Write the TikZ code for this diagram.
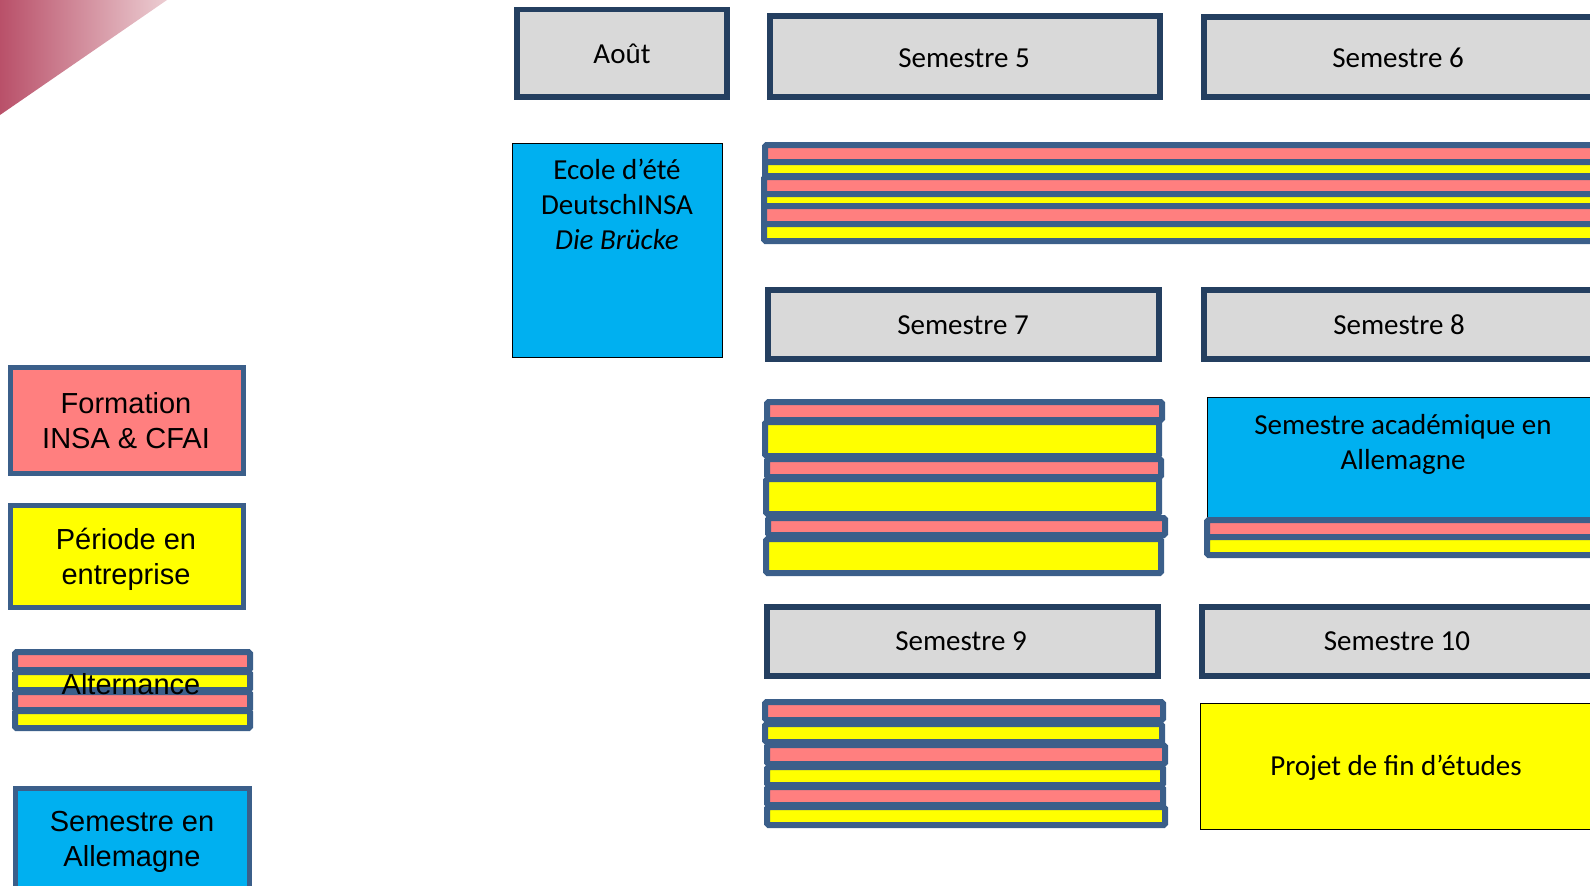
\documentclass[tikz,border=0pt]{standalone}
\usepackage{fontspec}
\setmainfont{Carlito}
\newfontfamily\arialf{Liberation Sans}
\definecolor{semgrey}{HTML}{D9D9D9}
\definecolor{navy}{HTML}{243F60}
\definecolor{sblue}{HTML}{3B5F8A}
\definecolor{spink}{HTML}{FF7F7F}
\definecolor{syellow}{HTML}{FFFF00}
\definecolor{cyanbox}{HTML}{00B0F0}
\definecolor{gradA}{RGB}{185,80,105}
\definecolor{gradB}{RGB}{236,205,210}
\tikzset{
 sembox/.style={draw=navy, line width=5.5pt, fill=semgrey},
 semtext/.style={font=\fontsize{29}{35}\selectfont, align=center, inner sep=0pt},
 legbox/.style={draw=sblue, line width=5pt},
 legtext/.style={font=\arialf\fontsize{29}{35}\selectfont, align=center, inner sep=0pt},
 thinbox/.style={draw=black, line width=1pt},
 stripebox/.style={draw=sblue, line width=6pt, rounded corners=1.5pt},
}
\newcommand{\mystripe}[5]{\draw[stripebox, fill=#1] (#2-3,#3-3) rectangle (#4+3,#5+3);}
\begin{document}
\begin{tikzpicture}[x=1pt, y=-1pt]
\useasboundingbox (0,0) rectangle (1590,886);
\clip (0,0) rectangle (1590,886);
% corner gradient
\shade[left color=gradA, right color=gradB] (0,0) -- (167,0) -- (0,115) -- cycle;
% semester headers
\draw[sembox] (517,9.5) rectangle (727,97);
\node[semtext] (aout) at (622,54) {Août};
\draw[sembox] (770,16) rectangle (1160,97);
\node[semtext] (s5) at (964,58) {Semestre 5};
\draw[sembox] (1204,17) rectangle (1594,97);
\node[semtext] (s6) at (1398,58) {Semestre 6};
\draw[sembox] (768,290) rectangle (1159,359);
\node[semtext] (s7) at (963,325) {Semestre 7};
\draw[sembox] (1204,290) rectangle (1594,359);
\node[semtext] (s8) at (1399,325) {Semestre 8};
\draw[sembox] (767,607) rectangle (1158,676);
\node[semtext] (s9) at (961,641) {Semestre 9};
\draw[sembox] (1202,607) rectangle (1594,676);
\node[semtext] (s10) at (1397,641) {Semestre 10};
% Ecole d'ete
\draw[thinbox, fill=cyanbox] (512,143) rectangle (722,357);
\node[semtext] (ecole) at (617,204) {Ecole d’été\\DeutschINSA\\\textit{Die Brücke}};
% row 1 stripes (S5-S6)
\mystripe{spink}{768}{148}{1600}{160}
\mystripe{syellow}{768}{165}{1600}{173}
\mystripe{spink}{767}{180}{1600}{192}
\mystripe{syellow}{767}{197}{1600}{203}
\mystripe{spink}{767}{209}{1600}{221}
\mystripe{syellow}{767}{227}{1600}{238}
% row 2 stripes (S7)
\mystripe{spink}{770}{405}{1159}{417}
\mystripe{syellow}{768}{425}{1156}{453}
\mystripe{spink}{770}{462}{1158}{474}
\mystripe{syellow}{769}{482}{1156}{511}
\mystripe{spink}{771}{521}{1162}{532}
\mystripe{syellow}{769}{542}{1158}{570}
% Semestre academique
\draw[thinbox, fill=cyanbox] (1207,397) rectangle (1600,520);
\node[semtext] (acad) at (1403,444) {Semestre académique en\\Allemagne};
\mystripe{spink}{1210}{523}{1600}{534}
\mystripe{syellow}{1210}{540}{1600}{552}
% row 3 stripes (S9)
\mystripe{spink}{768}{705}{1160}{717}
\mystripe{syellow}{768}{727}{1159}{739}
\mystripe{spink}{770}{748}{1162}{761}
\mystripe{syellow}{770}{770}{1160}{782}
\mystripe{spink}{770}{790}{1160}{802}
\mystripe{syellow}{770}{810}{1162}{822}
% Projet de fin d'etudes
\draw[thinbox, fill=syellow] (1200,703) rectangle (1600,829);
\node[semtext] (pfe) at (1396,768) {Projet de fin d’études};
% legend
\draw[legbox, fill=spink] (10,367) rectangle (243,473);
\node[legtext] (formation) at (126,421) {Formation\\INSA \& CFAI};
\draw[legbox, fill=syellow] (10,505) rectangle (243,607);
\node[legtext] (periode) at (126,559) {Période en\\entreprise};
\mystripe{spink}{18}{655}{247}{667}
\mystripe{syellow}{18}{675}{247}{687}
\mystripe{spink}{18}{695}{247}{707}
\mystripe{syellow}{18}{714}{247}{725}
\node[legtext] (altern) at (131,684) {Alternance};
\draw[legbox, fill=cyanbox] (15,788) rectangle (249,895);
\node[legtext] (allem) at (132,842) {Semestre en\\Allemagne};
\end{tikzpicture}
\end{document}
